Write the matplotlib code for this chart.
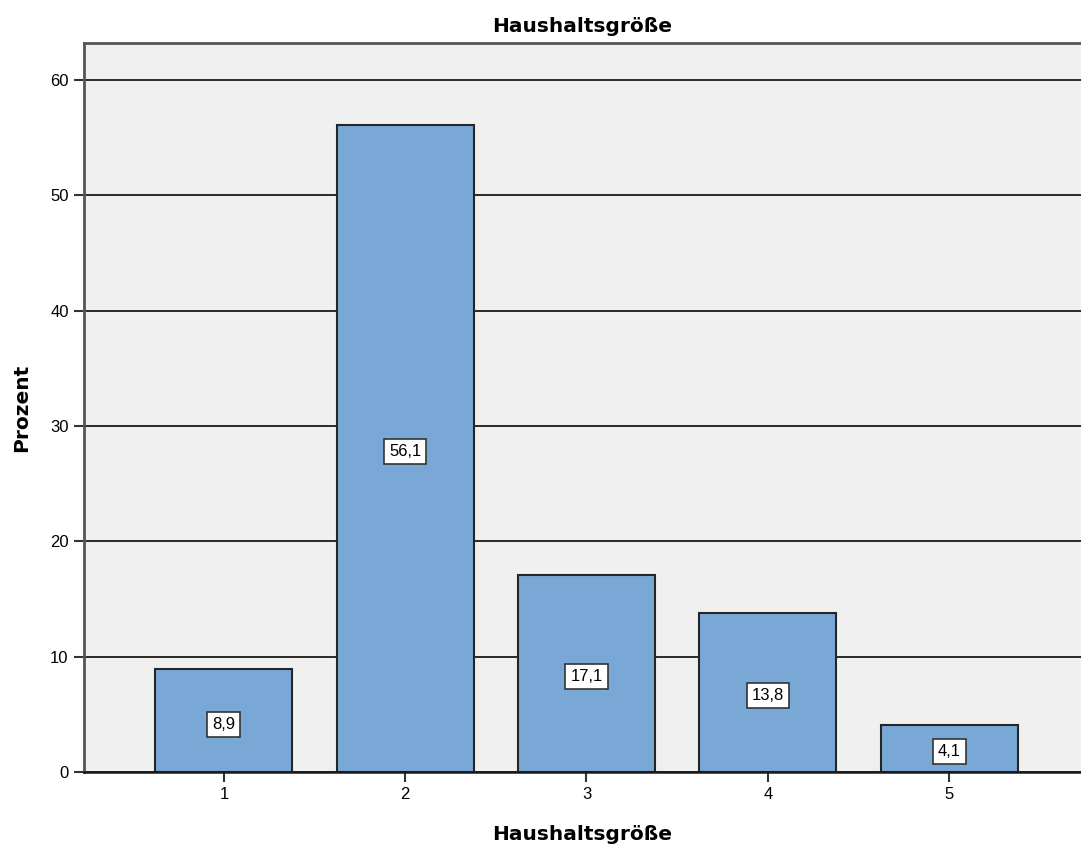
import matplotlib
matplotlib.use('Agg')
import matplotlib.pyplot as plt

# Daten aus dem Diagramm
categories = ['1', '2', '3', '4', '5']
percent = [8.9, 56.1, 17.1, 13.8, 4.1]
yticks = [0, 10, 20, 30, 40, 50, 60]

fig = plt.figure(figsize=(10.81, 8.56), dpi=100)
ax = fig.add_axes([0.0777, 0.0981, 0.9223, 0.8516])
ax.set_facecolor('#f0f0f0')

x = list(range(1, len(categories) + 1))
ax.set_axisbelow(True)
ax.yaxis.grid(True, color='#1a1a1a', linewidth=1.3)
bars = ax.bar(x, percent, width=0.756, color='#79a8d6', edgecolor='#262626', linewidth=1.5, zorder=2)

for xi, v in zip(x, percent):
    ax.text(xi, v / 2 - 0.3, f'{v:.1f}'.replace('.', ','), ha='center', va='center', fontsize=12,
            family='Liberation Sans',
            bbox=dict(boxstyle='square,pad=0.3', facecolor='white', edgecolor='#333333', linewidth=1.2),
            zorder=3)

ax.set_xlim(0.228, 5.728)
ax.set_ylim(0, 63.2)
ax.set_xticks(x)
ax.set_xticklabels(categories)
ax.set_yticks(yticks)
ax.tick_params(axis='both', labelsize=12, length=7, width=1.5, color='#333333', pad=4)
for lbl in ax.get_xticklabels() + ax.get_yticklabels():
    lbl.set_family('Liberation Sans')

ax.spines['right'].set_visible(False)
for s in ['left', 'top']:
    ax.spines[s].set_color('#555555')
    ax.spines[s].set_linewidth(2)
ax.spines['bottom'].set_color('#1a1a1a')
ax.spines['bottom'].set_linewidth(1.8)

ax.set_title('Haushaltsgröße', fontsize=14.5, fontweight='bold', pad=8)
ax.set_xlabel('Haushaltsgröße', fontsize=14.5, fontweight='bold', labelpad=16)
ax.set_ylabel('Prozent', fontsize=14.5, fontweight='bold', labelpad=14)

fig.savefig('out.png', dpi=100)
